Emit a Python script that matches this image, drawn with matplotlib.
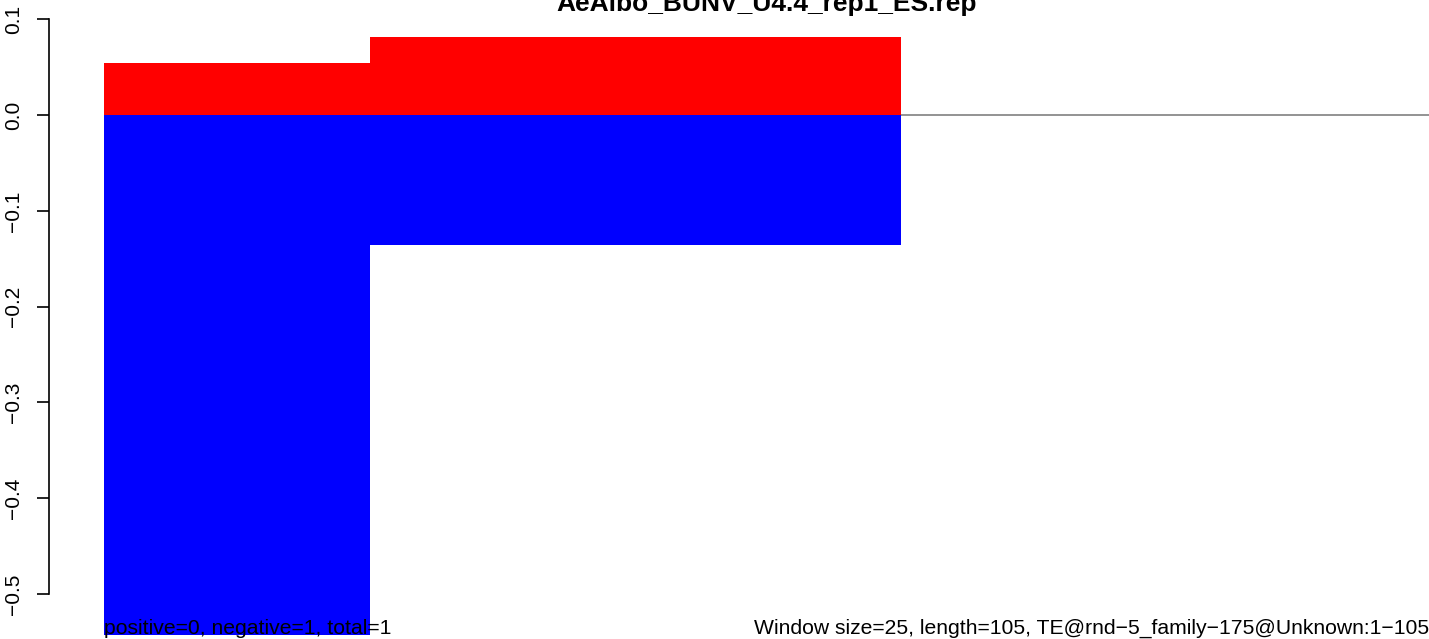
import matplotlib
matplotlib.use("Agg")
import matplotlib.pyplot as plt

# window data
win_start = [0, 1]
win_width = [1, 2]
pos_vals = [0.0547, 0.0815]
neg_vals = [-0.60, -0.1356]

title = "AeAlbo_BUNV_U4.4_rep1_ES.rep"
left_note = "positive=0, negative=1, total=1"
right_note = "Window size=25, length=105, TE@rnd\u22125_family\u2212175@Unknown:1\u2212105"
yticks = [-0.5, -0.4, -0.3, -0.2, -0.1, 0.0, 0.1]

plt.rcParams["font.family"] = ["Liberation Sans", "DejaVu Sans"]

fig = plt.figure(figsize=(14.29, 6.39), dpi=100)
ax = fig.add_axes([104 / 1429, 4 / 639, 1325 / 1429, 635 / 639])

ax.axhline(0, color="gray", lw=1.2, zorder=1)
ax.bar(win_start, pos_vals, width=win_width, align="edge", color="red", zorder=2, linewidth=0)
ax.bar(win_start, neg_vals, width=win_width, align="edge", color="blue", zorder=2, linewidth=0)

ax.set_xlim(0, 4.985)
ax.set_ylim(-0.5427, 0.1201)

for s in ["top", "right", "bottom"]:
    ax.spines[s].set_visible(False)
ax.spines["left"].set_position(("outward", 39.5))
ax.spines["left"].set_bounds(-0.5, 0.1)
ax.spines["left"].set_linewidth(1.2)
ax.set_xticks([])
ax.set_yticks(yticks)
ax.set_yticklabels(["\u22120.5", "\u22120.4", "\u22120.3", "\u22120.2", "\u22120.1", "0.0", "0.1"],
                   rotation=90, va="center", fontsize=15)
ax.tick_params(axis="y", length=9, width=1.2, pad=10)

fig.text(767 / 1429, 1 - 11 / 639, title, ha="center", va="baseline",
         fontsize=19, fontweight="bold")
fig.text(104 / 1429, 5 / 639, left_note, ha="left", va="baseline", fontsize=15.2)
fig.text(1429 / 1429, 5 / 639, right_note, ha="right", va="baseline", fontsize=15.2)

fig.savefig("out.png", dpi=100)
